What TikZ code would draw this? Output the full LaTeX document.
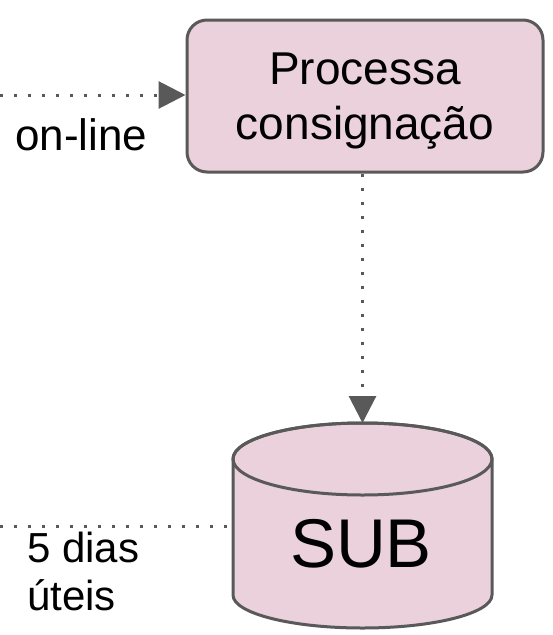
\documentclass[tikz,border=0pt]{standalone}
\usepackage{fontspec}
\setmainfont{Liberation Sans}
\usetikzlibrary{arrows.meta}
\definecolor{boxfill}{HTML}{EAD1DC}
\definecolor{edge}{HTML}{595959}
\tikzset{
  flow/.style={draw=edge, line width=3pt, dash pattern=on 3pt off 11pt},
  tip/.style={-{Triangle[length=27pt,width=27pt]}},
  procbox/.style={draw=edge, fill=boxfill, line width=3pt, rounded corners=20pt,
    minimum width=356pt, minimum height=152pt, align=center,
    font=\fontsize{46}{55}\selectfont},
  lbl/.style={inner sep=0pt, align=left, text=black},
}
\begin{document}
\begin{tikzpicture}[x=1pt,y=-1pt]
\useasboundingbox (0,0) rectangle (552,635);
% process box
\node[procbox] (proc) at (365,96) {\rule{0pt}{42pt}Processa\\consignação};
% cylinder
\coordinate (cylL) at (233,526);
\coordinate (subtop) at (362.5,423);
\filldraw[draw=edge, fill=boxfill, line width=3pt, line join=round]
  (233,459) -- (233,595) arc[start angle=180, end angle=360, x radius=129.5pt, y radius=33pt]
  -- (492,459) arc[start angle=0, end angle=180, x radius=129.5pt, y radius=36pt] -- cycle;
\draw[draw=edge, line width=3pt] (362.5,459) ellipse[x radius=129.5pt, y radius=36pt];
\node[inner sep=0pt, anchor=base, font=\fontsize{69}{72}\selectfont] (sub) at (361,567) {SUB};
% connectors
\coordinate (inL) at (0,95);
\coordinate (inB) at (0,526);
\draw[flow, tip] (inL) -- (proc.west |- inL);
\draw[flow, tip] (proc.south -| subtop) -- (subtop);
\draw[flow] (inB) -- (cylL);
% labels
\node[lbl, anchor=base west, font=\fontsize{44}{48}\selectfont] (online) at (15,150) {on-line};
\node[lbl, anchor=base west, font=\fontsize{42}{48}\selectfont] (dias) at (27,610) {5 dias\\úteis};
\end{tikzpicture}
\end{document}
